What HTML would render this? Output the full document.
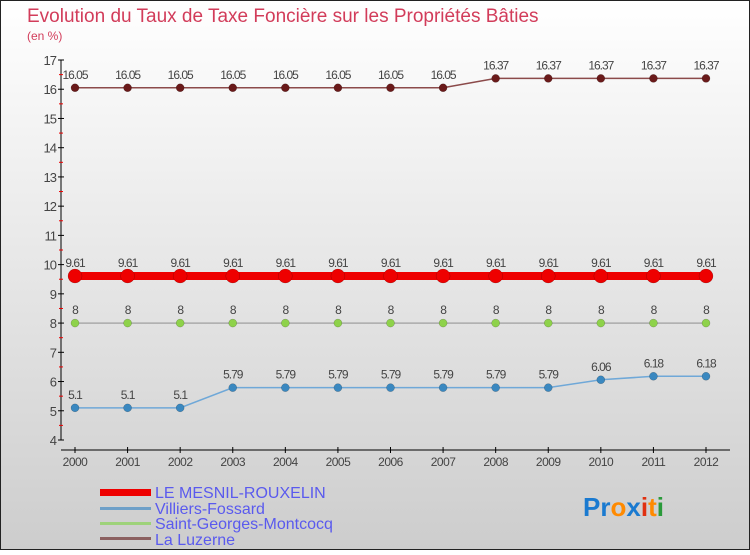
<!DOCTYPE html>
<html><head><meta charset="utf-8"><style>
html,body{margin:0;padding:0}
body{width:750px;height:550px;overflow:hidden;font-family:"Liberation Sans",sans-serif}
</style></head><body>
<svg id="chart" width="750" height="550" xmlns="http://www.w3.org/2000/svg" font-family="Liberation Sans, sans-serif">
<defs><linearGradient id="bg" x1="0" y1="0" x2="0" y2="1"><stop offset="0" stop-color="#ffffff"/><stop offset="1" stop-color="#cdcdcd"/></linearGradient></defs>
<rect x="0.5" y="0.5" width="749" height="549" fill="url(#bg)" stroke="#222" stroke-width="1"/>
<text x="27" y="22" font-size="19" fill="#d23c5a">Evolution du Taux de Taxe Foncière sur les Propriétés Bâties</text>
<text x="27" y="40" font-size="12" fill="#d23c5a">(en %)</text>
<g id="axes"></g><g id="series"></g>
<g>
<rect x="100" y="489" width="51" height="7" fill="#ee0000"/>
<text x="155" y="498" font-size="16" fill="#5a5aee">LE MESNIL-ROUXELIN</text>
<rect x="100" y="507" width="51" height="3" fill="#6fa0c8"/>
<text x="155" y="514" font-size="16" fill="#5a5aee">Villiers-Fossard</text>
<rect x="100" y="522" width="51" height="3" fill="#9ed27a"/>
<text x="155" y="529" font-size="16" fill="#5a5aee">Saint-Georges-Montcocq</text>
<rect x="100" y="537" width="51" height="3" fill="#8b6060"/>
<text x="155" y="545" font-size="16" fill="#5a5aee">La Luzerne</text>
</g>
<g font-size="26" font-weight="bold">
<text x="583" y="516"><tspan fill="#1a7ad0">Pr</tspan><tspan fill="#ff8a00">o</tspan><tspan fill="#1a7ad0">x</tspan><tspan fill="#e03010">i</tspan><tspan fill="#ff8a00">t</tspan><tspan fill="#2a9a3a">i</tspan></text>
</g>
</svg>
<script>
const years=[2000,2001,2002,2003,2004,2005,2006,2007,2008,2009,2010,2011,2012];
const yTicks=[4,5,6,7,8,9,10,11,12,13,14,15,16,17];
const mesnil=[9.61,9.61,9.61,9.61,9.61,9.61,9.61,9.61,9.61,9.61,9.61,9.61,9.61];
const villiers=[5.1,5.1,5.1,5.79,5.79,5.79,5.79,5.79,5.79,5.79,6.06,6.18,6.18];
const saintGeorges=[8,8,8,8,8,8,8,8,8,8,8,8,8];
const luzerne=[16.05,16.05,16.05,16.05,16.05,16.05,16.05,16.05,16.37,16.37,16.37,16.37,16.37];
const NS="http://www.w3.org/2000/svg";
const X=i=>75+i*(706-75)/(years.length-1);
const Y=v=>440-(v-4)*(380/13);
function mk(tag,attrs,parent,txt){const e=document.createElementNS(NS,tag);for(const k in attrs)e.setAttribute(k,attrs[k]);if(txt!==undefined)e.textContent=txt;parent.appendChild(e);return e;}
const ax=document.getElementById('axes');
let e=mk('line',{x1:61,y1:60,x2:61,y2:440,stroke:'#000','stroke-width':1},ax);


e=mk('line',{x1:61,y1:450,x2:730,y2:450,stroke:'#000','stroke-width':1},ax);


yTicks.forEach(v=>{
 mk('line',{x1:58,x2:64,y1:Y(v),y2:Y(v),stroke:'#000'},ax);
 if(v<17)mk('line',{x1:59,x2:63,y1:Y(v+0.5),y2:Y(v+0.5),stroke:'#e00'},ax);
 const t=mk('text',{x:56,y:Y(v)+5,'font-size':13,fill:'#444','text-anchor':'end','letter-spacing':'-1'},ax,String(v));
 
 
});
years.forEach((yr,i)=>{
 mk('line',{x1:X(i),x2:X(i),y1:447,y2:453,stroke:'#000'},ax);
 const t=mk('text',{x:X(i),y:466,'font-size':12,fill:'#444','text-anchor':'middle','letter-spacing':'-0.5'},ax,String(yr));
 
 
});
const sg=document.getElementById('series');
function series(name,vals,color,lw,r,dot){
 const g=mk('g',{},sg);
 
 
 mk('polyline',{points:vals.map((v,i)=>X(i)+','+Y(v)).join(' '),fill:'none',stroke:color,'stroke-width':lw},g);
 vals.forEach((v,i)=>{
  const c=mk('circle',{cx:X(i),cy:Y(v),r:r,fill:dot,stroke:'rgba(0,0,0,0.3)','stroke-width':0.5},g);
  
  
  mk('text',{x:X(i),y:Y(v)-9,'font-size':12,fill:'#444','text-anchor':'middle','letter-spacing':'-1'},g,String(v));
 });
}
series('la-luzerne',luzerne,'#8b4a4a',1.5,4,'#6a1a1a');
series('saint-georges-montcocq',saintGeorges,'#aaa',1.5,4,'#8ed24a');
series('villiers-fossard',villiers,'#6fa8d8',1.5,4,'#3a88c0');
series('le-mesnil-rouxelin',mesnil,'#ee0000',8,7,'#ee0000');
</script>
</body></html>
